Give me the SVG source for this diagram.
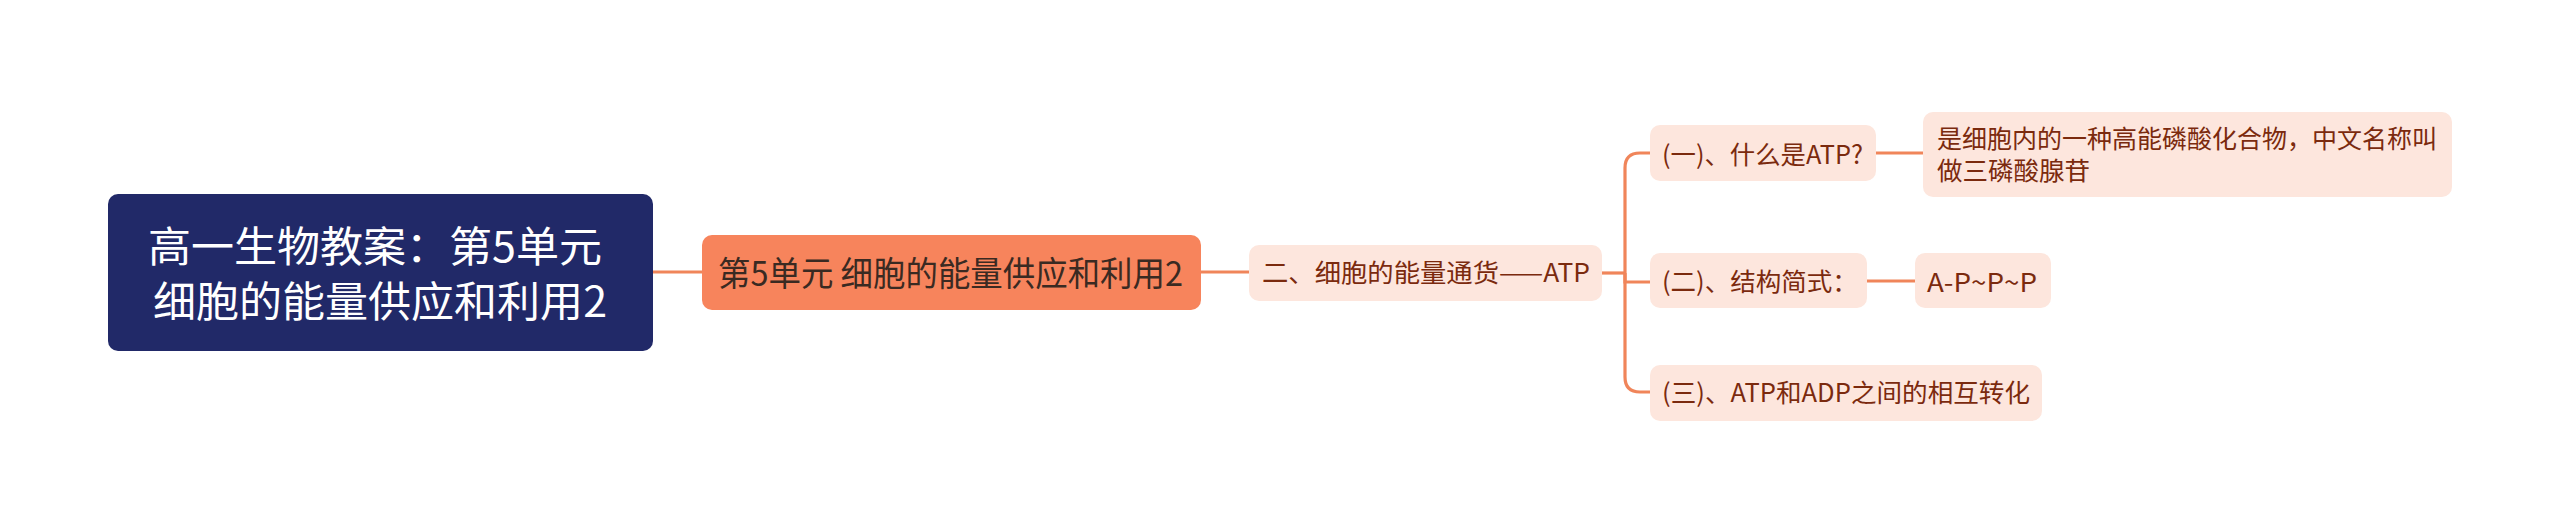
<svg xmlns="http://www.w3.org/2000/svg" width="2560" height="529" viewBox="0 0 2560 529">
<style>
text{font-family:"Noto Sans CJK SC","Noto Sans",sans-serif;}
.root rect{fill:#212968;}
.root text{fill:#ffffff;font-size:42px;}
.l1 rect{fill:#f7845c;}
.l1 text{fill:#3a2a22;font-size:34.5px;}
.sub rect{fill:#fde6dd;}
.sub text{fill:#7b2a0e;font-size:25.5px;}
.conn path{fill:none;stroke:#f0855a;stroke-width:3.2;}
</style>
<rect width="2560" height="529" fill="#ffffff"/>
<g class="conn">
<path d="M653,272 H702"/>
<path d="M1201,272 H1249"/>
<path d="M1602,273 H1625"/>
<path d="M1625,273 V168 Q1625,153 1640,153 H1650"/>
<path d="M1625,273 V282 H1650"/>
<path d="M1625,273 V377 Q1625,392 1640,392 H1650"/>
<path d="M1876,153 H1923"/>
<path d="M1867,281 H1915"/>
</g>
<g id="root" class="root">
<rect x="108" y="194" width="545" height="157" rx="10"/>
<text><tspan x="148" y="262" textLength="454" lengthAdjust="spacingAndGlyphs">高一生物教案：第5单元</tspan><tspan x="153" y="317" textLength="454" lengthAdjust="spacingAndGlyphs">细胞的能量供应和利用2</tspan></text>
</g>
<g id="n1" class="l1">
<rect x="702" y="235" width="499" height="75" rx="10"/>
<text x="718" y="286" textLength="465" lengthAdjust="spacingAndGlyphs">第5单元 细胞的能量供应和利用2</text>
</g>
<g id="n2" class="sub">
<rect x="1249" y="245" width="353" height="56" rx="10"/>
<text x="1262" y="282" textLength="328" lengthAdjust="spacingAndGlyphs">二、细胞的能量通货——ATP</text>
</g>
<g id="n3" class="sub">
<rect x="1650" y="125" width="226" height="56" rx="10"/>
<text x="1662" y="164" textLength="201" lengthAdjust="spacingAndGlyphs">(一)、什么是ATP?</text>
</g>
<g id="n4" class="sub">
<rect x="1650" y="253" width="217" height="55" rx="10"/>
<text x="1662" y="291">(二)、结构简式：</text>
</g>
<g id="n5" class="sub">
<rect x="1650" y="365" width="392" height="56" rx="10"/>
<text x="1662" y="402" textLength="368" lengthAdjust="spacingAndGlyphs">(三)、ATP和ADP之间的相互转化</text>
</g>
<g id="n6" class="sub">
<rect x="1923" y="112" width="529" height="85" rx="10"/>
<text><tspan x="1937" y="148" textLength="500" lengthAdjust="spacingAndGlyphs">是细胞内的一种高能磷酸化合物，中文名称叫</tspan><tspan x="1937" y="180">做三磷酸腺苷</tspan></text>
</g>
<g id="n7" class="sub">
<rect x="1915" y="253" width="136" height="55" rx="10"/>
<text x="1927" y="292" textLength="110" lengthAdjust="spacingAndGlyphs">A-P~P~P</text>
</g>
</svg>
